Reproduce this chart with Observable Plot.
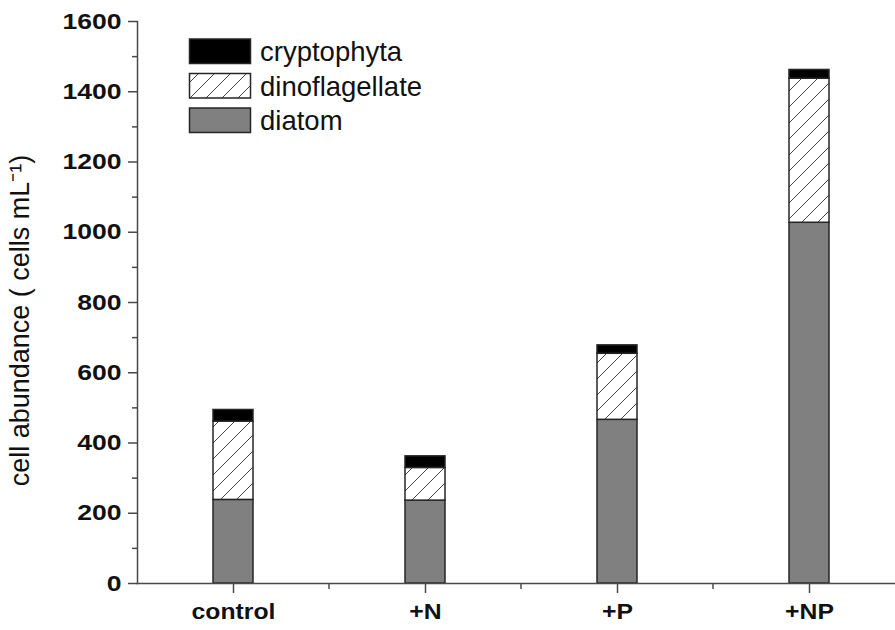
<!DOCTYPE html>
<html><head><meta charset="utf-8">
<script src="https://cdn.jsdelivr.net/npm/d3@7"></script>
<script src="https://cdn.jsdelivr.net/npm/@observablehq/plot@0.6"></script>
<style>body{margin:0;background:#fff} svg{display:block}</style>
</head><body><div id="chart"></div>
<script>
const categories = ["control", "+N", "+P", "+NP"];
const groups = ["diatom", "dinoflagellate", "cryptophyta"];
const legendOrder = ["cryptophyta", "dinoflagellate", "diatom"];
const diatom = [238, 236, 466, 1027];
const dinoflagellate = [223, 93, 188, 410];
const cryptophyta = [33, 33, 24, 25];
const yTicks = [0, 200, 400, 600, 800, 1000, 1200, 1400, 1600];
const yMinorTicks = [100, 300, 500, 700, 900, 1100, 1300, 1500];
const yLabel = "cell abundance ( cells mL\u207B\u00B9)";

const series = {diatom, dinoflagellate, cryptophyta};
const table = categories.flatMap((c, i) => groups.map(g => ({category: c, group: g, value: series[g][i]})));
const fills = {diatom: "#808080", dinoflagellate: "url(#hatch)", cryptophyta: "#000000"};

const axisColor = "#4a4a4a";
const chart = Plot.plot({
  width: 895, height: 630,
  marginLeft: 137, marginRight: 0, marginTop: 21, marginBottom: 47,
  style: {fontFamily: "'Liberation Sans', Arial, sans-serif", background: "#fff", color: "#111"},
  x: {domain: categories, range: [137, 905], paddingInner: 0.79, paddingOuter: 0.395, label: null},
  y: {domain: [0, 1600], label: null},
  color: {type: "ordinal", domain: groups, range: groups.map(g => fills[g])},
  marks: [
    Plot.barY(table, {x: "category", y: "value", fill: "group", stroke: "#262626", strokeWidth: 1.5, order: groups}),
    Plot.axisY({ticks: yMinorTicks, tickSize: 5, text: null, label: null, stroke: axisColor, strokeWidth: 1.5}),
    Plot.axisY({ticks: yTicks, tickSize: 9, tickPadding: 7, tickFormat: d => String(d), fontSize: 22.5, fontWeight: "bold", label: null, stroke: axisColor, strokeWidth: 1.5}),
    Plot.axisX({tickSize: 10, tickPadding: 10, fontSize: 22.5, fontWeight: "bold", label: null, stroke: axisColor, strokeWidth: 1.5}),
    Plot.frame({anchor: "left", stroke: axisColor, strokeWidth: 1.5}),
    Plot.frame({anchor: "bottom", stroke: axisColor, strokeWidth: 1.5}),
    Plot.text([yLabel], {frameAnchor: "left", textAnchor: "middle", rotate: -90, dx: -117, dy: 18, fontSize: 27, fill: "#111"})
  ]
});

const svg = d3.select(chart);
// hatch pattern
const defs = svg.insert("defs", ":first-child");
const pat = defs.append("pattern").attr("id", "hatch").attr("patternUnits", "userSpaceOnUse").attr("width", 16).attr("height", 16);
pat.append("rect").attr("width", 16).attr("height", 16).attr("fill", "#fff");
pat.append("path").attr("d", "M-4,4 L4,-4 M0,16 L16,0 M12,20 L20,12").attr("stroke", "#444").attr("stroke-width", 1);

// bold tick labels, widened like the reference
svg.selectAll('g[aria-label="y-axis tick label"] text').each(function() {
  const t = this.getAttribute("transform") || "";
  this.setAttribute("transform", t + " scale(1.18,1)");
  this.setAttribute("font-weight", "bold");
});
svg.selectAll('g[aria-label="x-axis tick label"] text').each(function() {
  const t = this.getAttribute("transform") || "";
  this.setAttribute("transform", t + " scale(1.1,1)");
  this.setAttribute("font-weight", "bold");
});

// minor ticks between categories on x axis
const xs = chart.scale("x");
const y0 = chart.scale("y").apply(0);
const gMinor = svg.append("g");
categories.slice(0, -1).forEach(c => {
  const bx = xs.apply(c) + xs.bandwidth / 2 + xs.step / 2;
  gMinor.append("line").attr("x1", bx).attr("x2", bx).attr("y1", y0).attr("y2", y0 + 6)
    .attr("stroke", axisColor).attr("stroke-width", 1.5);
});

// legend inside plot
const lg = svg.append("g").attr("font-family", "'Liberation Sans', Arial, sans-serif").attr("text-anchor", "start");
legendOrder.forEach((g, i) => {
  const top = 39 + i * 34.5;
  lg.append("rect").attr("x", 189.5).attr("y", top).attr("width", 61).attr("height", 24.5)
    .attr("fill", fills[g]).attr("stroke", "#262626").attr("stroke-width", 1.5);
  lg.append("text").attr("x", 260).attr("y", top + 22).attr("font-size", 27.5).attr("fill", "#111")
    .attr("text-anchor", "start").text(g);
});

document.getElementById("chart").appendChild(chart);
</script>
</body></html>
